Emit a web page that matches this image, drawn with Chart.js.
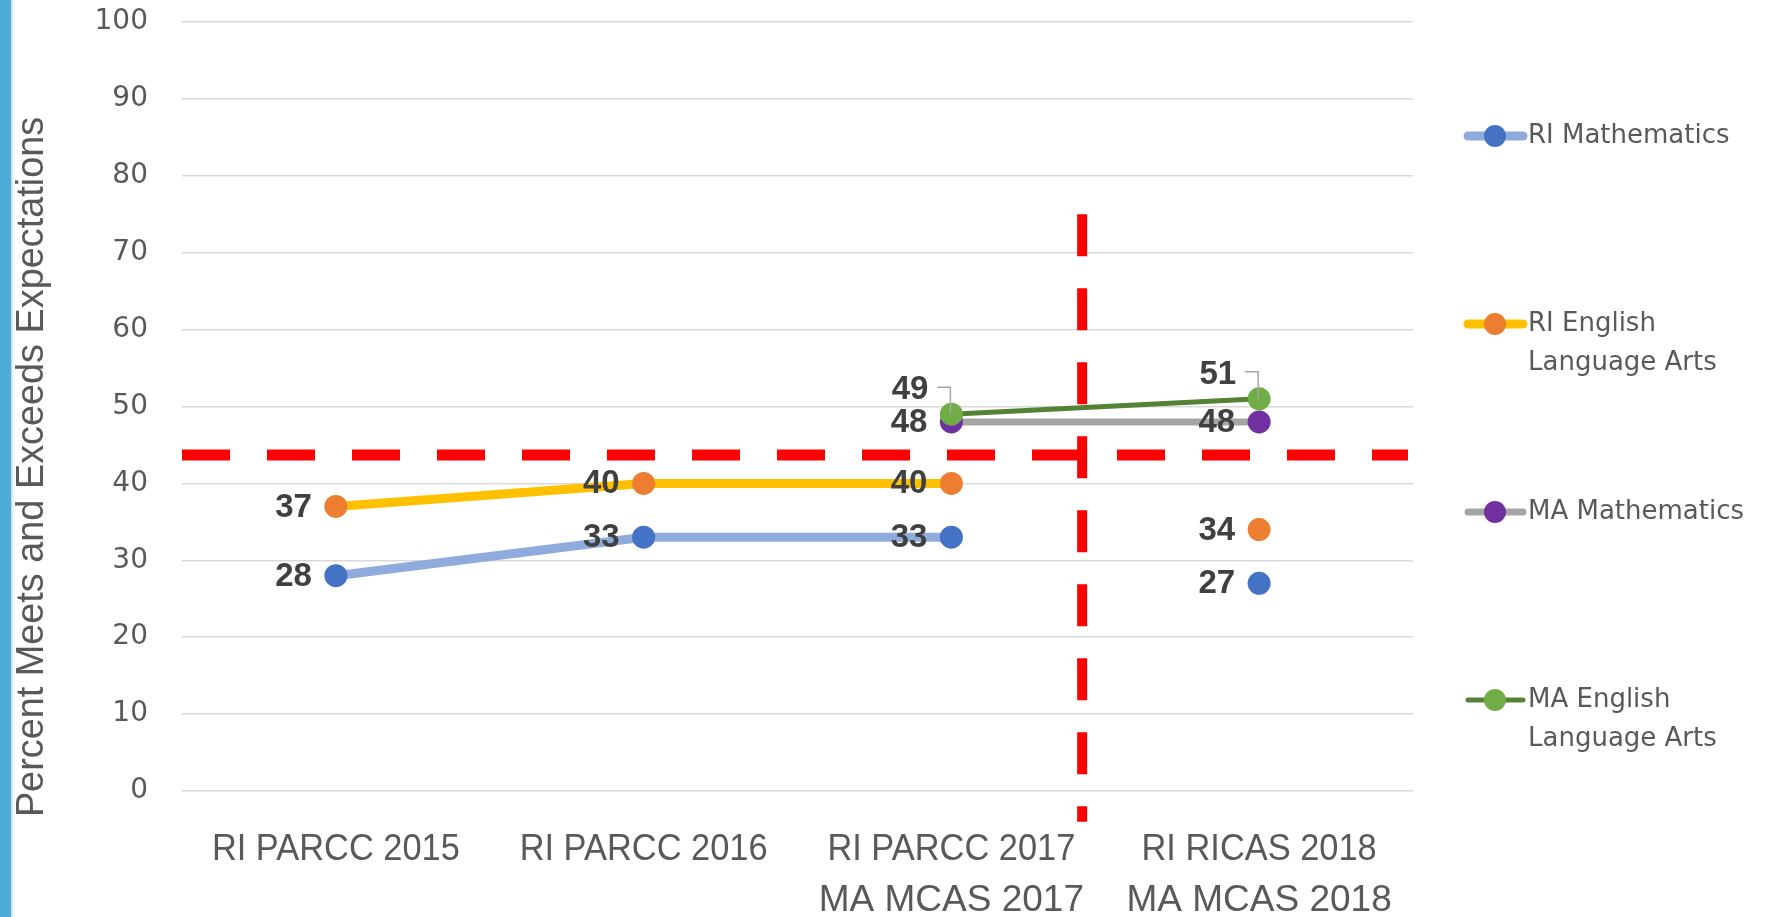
<!DOCTYPE html>
<html>
<head>
<meta charset="utf-8">
<script src="https://cdn.jsdelivr.net/npm/chart.js@4.4.0/dist/chart.umd.min.js"></script>
<style>
  html, body { margin: 0; padding: 0; background: #fff; }
  #wrap { position: relative; width: 1766px; height: 917px; }
</style>
</head>
<body>
<div id="wrap"><canvas id="chart" width="1766" height="917"></canvas></div>
<script>
/* RI vs MA — percent meets/exceeds expectations */

const CATEGORIES = ['RI PARCC 2015', 'RI PARCC 2016', ['RI PARCC 2017', 'MA MCAS 2017'], ['RI RICAS 2018', 'MA MCAS 2018']];

const RI_MATH = [28, 33, 33, 27];
const RI_ELA  = [37, 40, 40, 34];
const MA_MATH = [null, null, 48, 48];
const MA_ELA  = [null, null, 49, 51];

const Y_MIN = 0, Y_MAX = 100, Y_STEP = 10;

const THRESHOLD = 43.7;          // red dashed reference line
const DIVIDER_AT = 2.425;        // vertical red divider, between 2017 and 2018
const DIVIDER_FROM = 75, DIVIDER_TO = -4;
const BREAK_AT = 3;              // RI 2018 (RICAS) not joined to the PARCC years

const Y_TITLE = 'Percent Meets and Exceeds Expectations';

const LABEL_FONT = "bold 33px 'Liberation Sans', Arial, sans-serif";
const GREY_TEXT = '#595959';

// hide the segment that would join PARCC to RICAS
const breakSegment = {
  borderColor: c => c.p1DataIndex === BREAK_AT ? 'rgba(0,0,0,0)' : undefined
};

function series(label, data, lineColor, pointColor, width, order, extra) {
  return Object.assign({
    label: label,
    data: data,
    borderColor: lineColor,
    backgroundColor: pointColor,
    borderWidth: width,
    pointRadius: 11.5,
    pointHoverRadius: 11.5,
    pointBackgroundColor: pointColor,
    pointBorderColor: pointColor,
    pointBorderWidth: 0,
    tension: 0,
    spanGaps: false,
    order: order
  }, extra || {});
}

const datasets = [
  series('RI Mathematics', RI_MATH, '#8FAADC', '#4472C4', 9, 4, { segment: breakSegment, legendText: ['RI Mathematics'] }),
  series('RI English Language Arts', RI_ELA, '#FFC000', '#ED7D31', 9, 3, { segment: breakSegment, legendText: ['RI English', 'Language Arts'] }),
  series('MA Mathematics', MA_MATH, '#A5A5A5', '#7030A0', 7, 2, { legendText: ['MA Mathematics'] }),
  series('MA English Language Arts', MA_ELA, '#548235', '#70AD47', 5, 1, { callout: true, legendText: ['MA English', 'Language Arts'] })
];

// condensed text: no narrow face installed, so squeeze horizontally
function narrowText(ctx, text, x, y, squeeze) {
  ctx.save();
  ctx.translate(x, y);
  ctx.scale(squeeze, 1);
  ctx.fillText(text, 0, 0);
  ctx.restore();
}

// ── Decorations: side bar, axis titles/labels, red lines, values, legend ──

const decor = {
  id: 'decor',
  beforeDraw(chart) {
    const ctx = chart.ctx;
    ctx.save();
    ctx.fillStyle = '#4EADD8';
    ctx.fillRect(0, 0, 11, chart.height);
    ctx.fillStyle = '#BFE0F0';
    ctx.fillRect(11, 0, 1.5, chart.height);

    ctx.translate(43, 467);
    ctx.rotate(-Math.PI / 2);
    ctx.fillStyle = GREY_TEXT;
    ctx.font = "39px 'Liberation Sans', sans-serif";
    ctx.textAlign = 'center';
    ctx.textBaseline = 'alphabetic';
    narrowText(ctx, Y_TITLE, 0, 0, 0.97);
    ctx.restore();
  },
  afterDraw(chart) {
    const ctx = chart.ctx;
    const xs = chart.scales.x;
    const base = chart.chartArea.bottom + 69;
    ctx.save();
    ctx.fillStyle = GREY_TEXT;
    ctx.font = "37px 'Liberation Sans', sans-serif";
    ctx.textAlign = 'center';
    ctx.textBaseline = 'alphabetic';
    CATEGORIES.forEach((c, i) => {
      const lines = Array.isArray(c) ? c : [c];
      const x = xs.getPixelForValue(i);
      // MA lines are set a little wider than the RI ones in the original
      lines.forEach((t, k) => narrowText(ctx, t, x, base + k * 51, k === 0 ? 0.93 : 1.0));
    });

    // legend
    ctx.font = "26px 'DejaVu Sans', sans-serif";
    ctx.textBaseline = 'middle';
    ctx.textAlign = 'left';
    chart.data.datasets.forEach((ds, i) => {
      const y = 136 + i * 188;
      ctx.strokeStyle = ds.borderColor;
      ctx.lineWidth = ds.borderWidth;
      ctx.lineCap = 'round';
      ctx.beginPath();
      ctx.moveTo(1468, y);
      ctx.lineTo(1523, y);
      ctx.stroke();
      ctx.fillStyle = ds.pointBackgroundColor;
      ctx.beginPath();
      ctx.arc(1495, y, 11, 0, Math.PI * 2);
      ctx.fill();
      ctx.fillStyle = GREY_TEXT;
      ds.legendText.forEach((t, k) => ctx.fillText(t, 1528, y + k * 39));
    });
    ctx.restore();
  },
  beforeDatasetsDraw(chart) {
    const ctx = chart.ctx;
    const xs = chart.scales.x, ys = chart.scales.y;
    const area = chart.chartArea;
    ctx.save();
    ctx.strokeStyle = '#FF0000';
    ctx.lineCap = 'butt';

    // horizontal threshold
    const ty = ys.getPixelForValue(THRESHOLD);
    ctx.lineWidth = 11;
    ctx.setLineDash([48, 37]);
    ctx.beginPath();
    ctx.moveTo(area.left, ty);
    ctx.lineTo(area.right - 5, ty);
    ctx.stroke();

    // vertical divider
    const dx = xs.getPixelForValue(DIVIDER_AT);
    ctx.lineWidth = 10;
    ctx.setLineDash([42, 32]);
    ctx.beginPath();
    ctx.moveTo(dx, ys.getPixelForValue(DIVIDER_FROM));
    ctx.lineTo(dx, ys.getPixelForValue(DIVIDER_TO));
    ctx.stroke();
    ctx.restore();
  },
  afterDatasetsDraw(chart) {
    const ctx = chart.ctx;
    ctx.save();
    ctx.font = LABEL_FONT;
    ctx.fillStyle = '#404040';
    ctx.textAlign = 'right';
    ctx.textBaseline = 'middle';
    chart.data.datasets.forEach((ds, di) => {
      const meta = chart.getDatasetMeta(di);
      meta.data.forEach((pt, i) => {
        const v = ds.data[i];
        if (v === null || v === undefined) return;
        if (ds.callout) {
          ctx.fillText(String(v), pt.x - 23, pt.y - 24);
          ctx.save();
          ctx.strokeStyle = '#A6A6A6';
          ctx.lineWidth = 1.5;
          ctx.beginPath();
          ctx.moveTo(pt.x - 14, pt.y - 27);
          ctx.lineTo(pt.x - 1, pt.y - 27);
          ctx.lineTo(pt.x - 1, pt.y);
          ctx.stroke();
          ctx.restore();
        } else {
          ctx.fillText(String(v), pt.x - 24, pt.y + 1);
        }
      });
    });
    ctx.restore();
  }
};

new Chart(document.getElementById('chart'), {
  type: 'line',
  data: { labels: CATEGORIES, datasets: datasets },
  options: {
    responsive: false,
    animation: false,
    devicePixelRatio: 1,
    layout: { padding: { left: 0, right: 353, top: 22, bottom: 0 } },
    plugins: {
      legend: { display: false },
      tooltip: { enabled: false }
    },
    scales: {
      x: {
        offset: true,
        grid: { display: false, drawTicks: false },
        border: { display: false },
        ticks: { display: false },
        afterFit: s => { s.height = 126; s.paddingLeft = 0; s.paddingRight = 0; }
      },
      y: {
        min: Y_MIN,
        max: Y_MAX,
        ticks: {
          stepSize: Y_STEP,
          color: GREY_TEXT,
          font: { family: "'DejaVu Sans', sans-serif", size: 28 },
          padding: 34
        },
        grid: { color: '#D9D9D9', lineWidth: 1.5, drawTicks: false },
        border: { display: false },
        afterFit: s => { s.width = 182; s.paddingTop = 0; s.paddingBottom = 0; }
      }
    }
  },
  plugins: [decor]
});
</script>
</body>
</html>
